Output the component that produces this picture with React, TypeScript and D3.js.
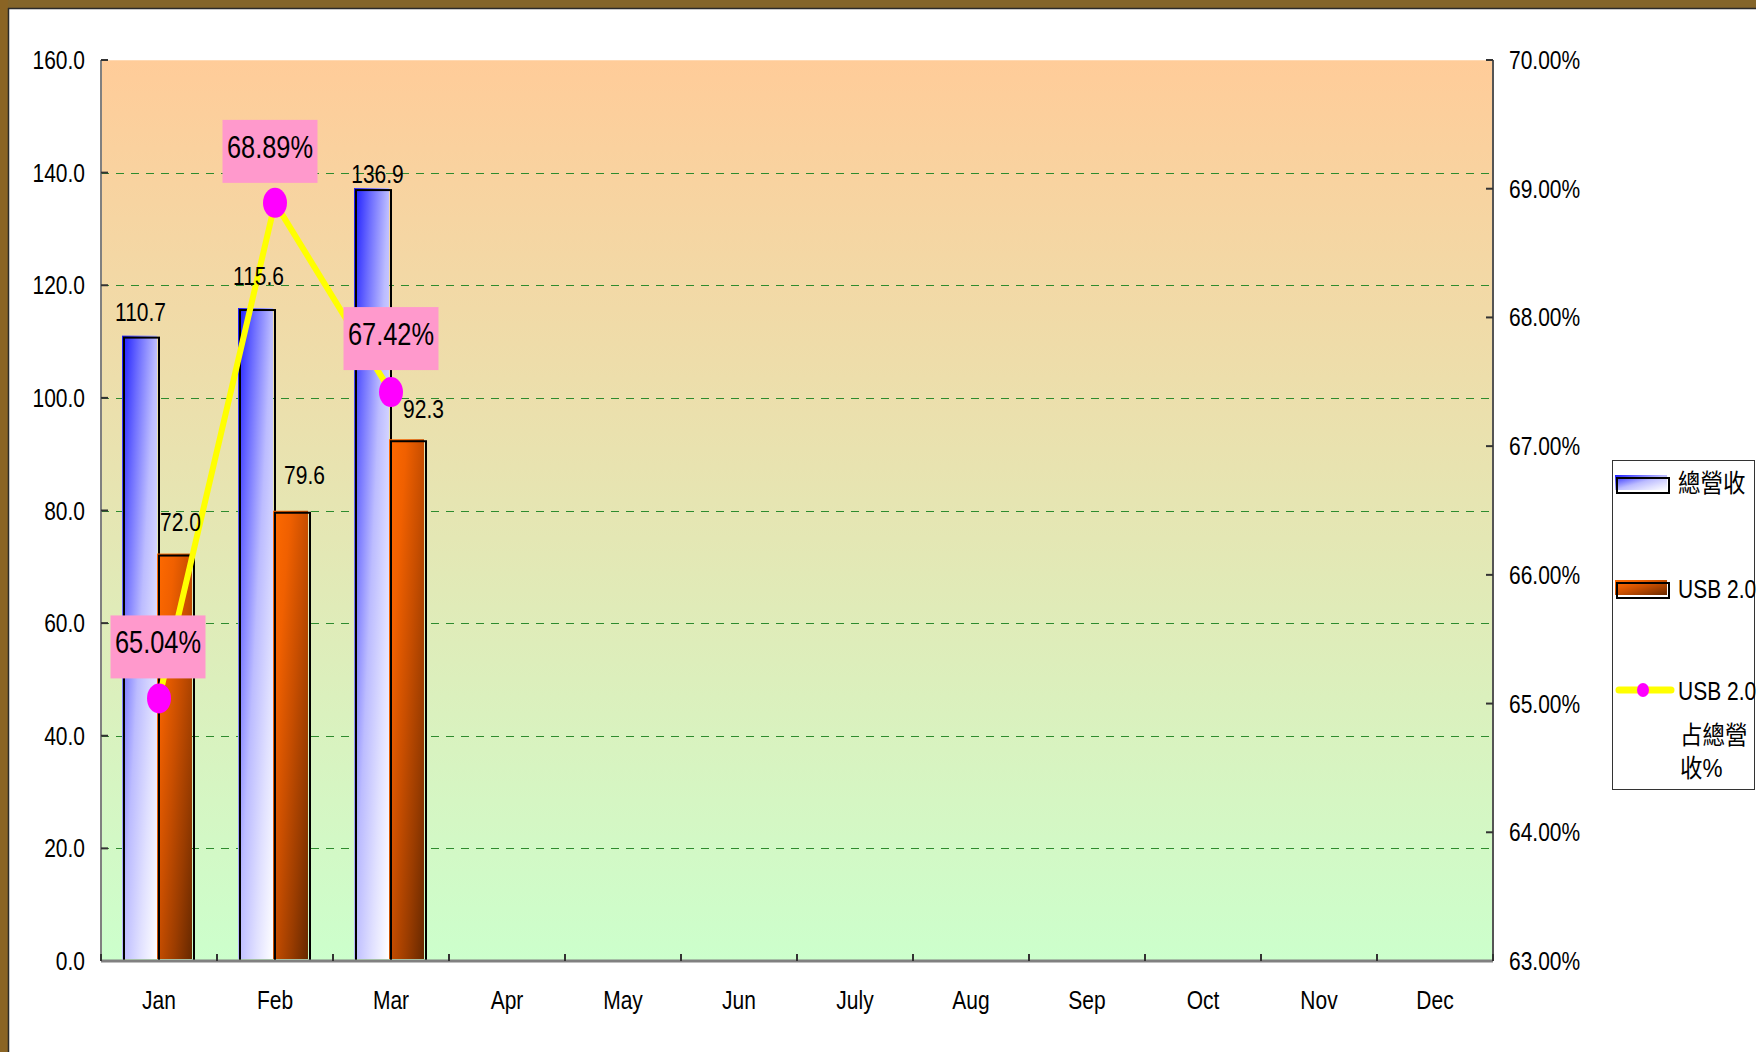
import * as d3 from 'd3';
import React, { useEffect } from 'react';

// chart values
const months = ['Jan', 'Feb', 'Mar', 'Apr', 'May', 'Jun', 'July', 'Aug', 'Sep', 'Oct', 'Nov', 'Dec'];
const totalRevenue = [110.7, 115.6, 136.9];
const usbRevenue = [72.0, 79.6, 92.3];
const usbShare = [65.04, 68.89, 67.42];
const leftTicks = [0, 20, 40, 60, 80, 100, 120, 140, 160];
const rightTicks = [63, 64, 65, 66, 67, 68, 69, 70];
const barSeries = ['總營收', 'USB 2.0'];
const lineLabel = ['USB 2.0', '占總營', '收%'];

// label nudges (dx, dy) as placed in the original
const totalNudge = [[-1, -17], [1, -25], [4, -7]];
const usbNudge = [[4, -25], [12, -29], [15, -23]];
const shareNudge = [[-1, 0], [-5, 0], [0, -2]];

const W = 1756;
const H = 1052;
const plot = { left: 101, top: 60, right: 1493, bottom: 961 };
const FONT = 'Liberation Sans, Arial, Noto Sans CJK TC, sans-serif';
const SX = 0.84;

function Txt({ x, y, anchor = 'start', size = 25, sx = SX, children }: any) {
  return (
    <text
      transform={`translate(${x},${y}) scale(${sx},1)`}
      textAnchor={anchor}
      fontSize={size}
      fontFamily={FONT}
      fill="#000"
    >
      {children}
    </text>
  );
}

export default function App() {
  useEffect(() => {
    document.body.style.margin = '0';
    document.body.style.overflow = 'hidden';
  }, []);

  const x0 = d3.scaleBand<string>().domain(months).range([plot.left, plot.right]).padding(0);
  const x1 = d3
    .scaleBand<string>()
    .domain(barSeries)
    .range([0, x0.bandwidth()])
    .paddingInner(0)
    .paddingOuter(0.657);
  const y = d3.scaleLinear().domain([0, 160]).range([plot.bottom, plot.top]);
  const y2 = d3.scaleLinear().domain([63, 70]).range([plot.bottom, plot.top]);

  const cx = (i: number) => (x0(months[i]) as number) + x0.bandwidth() / 2;
  const line = d3
    .line<number>()
    .x((_, i) => cx(i))
    .y((d) => y2(d));

  const bw = x1.bandwidth();
  const bars = [
    { values: totalRevenue, key: barSeries[0], grad: 'url(#blueGrad)' },
    { values: usbRevenue, key: barSeries[1], grad: 'url(#orangeGrad)' },
  ];
  const barCenter = (i: number, key: string) => (x0(months[i]) as number) + (x1(key) as number) + bw / 2;

  const boundaries = months.map((m) => x0(m) as number).concat([plot.right]);

  return (
    <svg width={W} height={H} style={{ position: 'absolute', left: 0, top: 0, display: 'block' }}>
      <defs>
        <linearGradient id="bgGrad" x1="0" y1="0" x2="0" y2="1">
          <stop offset="0" stopColor="#FFCC99" />
          <stop offset="1" stopColor="#CCFFCC" />
        </linearGradient>
        <linearGradient id="blueGrad" x1="0" y1="0" x2="1" y2="1">
          <stop offset="0" stopColor="#1A1AFF" />
          <stop offset="0.25" stopColor="#6E6EFF" />
          <stop offset="0.5" stopColor="#BCBCFF" />
          <stop offset="0.75" stopColor="#E0E0FF" />
          <stop offset="1" stopColor="#FFFFFF" />
        </linearGradient>
        <linearGradient id="orangeGrad" x1="0" y1="0" x2="1" y2="1">
          <stop offset="0" stopColor="#FF6A00" />
          <stop offset="0.25" stopColor="#F06000" />
          <stop offset="0.5" stopColor="#C84E00" />
          <stop offset="0.75" stopColor="#9A3C00" />
          <stop offset="1" stopColor="#662800" />
        </linearGradient>
      </defs>

      <rect x={0} y={0} width={W} height={H} fill="#fff" />
      {/* frame */}
      <rect x={0} y={0} width={W} height={8} fill="#84652A" />
      <rect x={0} y={0} width={8} height={H} fill="#8A6424" />
      <line x1={8.5} y1={8} x2={8.5} y2={H} stroke="#2a2a2a" strokeWidth={1.5} />
      <line x1={8} y1={8.5} x2={W} y2={8.5} stroke="#2a2a2a" strokeWidth={1.5} />

      {/* plot area */}
      <rect
        x={plot.left}
        y={plot.top}
        width={plot.right - plot.left}
        height={plot.bottom - plot.top}
        fill="url(#bgGrad)"
      />
      <line x1={plot.left} y1={plot.top - 0.5} x2={plot.right} y2={plot.top - 0.5} stroke="#fff" strokeWidth={1.5} />

      {/* gridlines */}
      {leftTicks
        .filter((t) => t > 0 && t < 160)
        .map((t) => (
          <line
            key={'g' + t}
            x1={plot.left}
            x2={plot.right}
            y1={Math.round(y(t)) + 0.5}
            y2={Math.round(y(t)) + 0.5}
            stroke="#2E8B2E"
            strokeWidth={1.2}
            strokeDasharray="8,7"
          />
        ))}

      {/* axes */}
      <line x1={plot.left} y1={plot.top} x2={plot.left} y2={plot.bottom} stroke="#808080" strokeWidth={2} />
      <line x1={plot.right} y1={plot.top} x2={plot.right} y2={plot.bottom} stroke="#555" strokeWidth={2} />
      {leftTicks.map((t) => (
        <g key={'l' + t}>
          <line x1={plot.left} x2={plot.left + 7} y1={y(t)} y2={y(t)} stroke="#333" strokeWidth={2} />
          <Txt x={85} y={y(t) + 9} anchor="end">
            {t.toFixed(1)}
          </Txt>
        </g>
      ))}
      {rightTicks.map((t) => (
        <g key={'r' + t}>
          <line x1={plot.right - 7} x2={plot.right} y1={y2(t)} y2={y2(t)} stroke="#333" strokeWidth={2} />
          <Txt x={1509} y={y2(t) + 9}>
            {t.toFixed(2) + '%'}
          </Txt>
        </g>
      ))}

      {/* bars */}
      {bars.map((s) =>
        s.values.map((v, i) => {
          const bx = (x0(months[i]) as number) + (x1(s.key) as number);
          const by = y(v);
          const bh = plot.bottom - by;
          return (
            <g key={s.key + i}>
              <rect x={bx - 2} y={by - 2} width={bw} height={bh} fill={s.grad} />
              <rect x={bx} y={by} width={bw} height={bh} fill="none" stroke="#000" strokeWidth={2} />
            </g>
          );
        })
      )}

      <line x1={plot.left} y1={plot.bottom} x2={plot.right} y2={plot.bottom} stroke="#808080" strokeWidth={3} />
      {boundaries.map((b, i) => (
        <line key={'b' + i} x1={b} x2={b} y1={plot.bottom - 7} y2={plot.bottom} stroke="#333" strokeWidth={2} />
      ))}
      {months.map((m, i) => (
        <Txt key={m} x={cx(i)} y={1009} anchor="middle">
          {m}
        </Txt>
      ))}

      {/* share line */}
      <path d={line(usbShare) || ''} fill="none" stroke="#FFFF00" strokeWidth={6} strokeLinejoin="round" />
      {usbShare.map((v, i) => (
        <ellipse key={'m' + i} cx={cx(i)} cy={y2(v)} rx={12} ry={15} fill="#FF00FF" />
      ))}

      {/* bar value labels */}
      {totalRevenue.map((v, i) => (
        <Txt key={'tv' + i} x={barCenter(i, barSeries[0]) + totalNudge[i][0]} y={y(v) + totalNudge[i][1]} anchor="middle">
          {v.toFixed(1)}
        </Txt>
      ))}
      {usbRevenue.map((v, i) => (
        <Txt key={'uv' + i} x={barCenter(i, barSeries[1]) + usbNudge[i][0]} y={y(v) + usbNudge[i][1]} anchor="middle">
          {v.toFixed(1)}
        </Txt>
      ))}

      {usbShare.map((v, i) => {
        const lx = cx(i) + shareNudge[i][0];
        const top = y2(v) - 20 - 63 + shareNudge[i][1];
        return (
          <g key={'pl' + i}>
            <rect x={lx - 47.5} y={top} width={95} height={63} fill="#FF99CC" />
            <Txt x={lx} y={top + 38} anchor="middle" size={31} sx={0.82}>
              {v.toFixed(2) + '%'}
            </Txt>
          </g>
        );
      })}

      {/* legend */}
      <rect x={1612.5} y={460.5} width={142} height={329} fill="#fff" stroke="#333" strokeWidth={1} />
      <rect x={1615} y={475} width={52} height={15} fill="url(#blueGrad)" />
      <rect x={1617} y={478} width={52} height={15} fill="none" stroke="#000" strokeWidth={2} />
      <Txt x={1678} y={492} size={25} sx={0.9}>
        {barSeries[0]}
      </Txt>
      <rect x={1615} y={580} width={52} height={15} fill="url(#orangeGrad)" />
      <rect x={1617} y={583} width={52} height={15} fill="none" stroke="#000" strokeWidth={2} />
      <Txt x={1678} y={598} size={25}>
        {barSeries[1]}
      </Txt>
      <line x1={1619} x2={1671} y1={690} y2={690} stroke="#FFFF00" strokeWidth={7} strokeLinecap="round" />
      <ellipse cx={1643} cy={690} rx={6} ry={7} fill="#FF00FF" />
      <Txt x={1678} y={700} size={25}>
        {lineLabel[0]}
      </Txt>
      <Txt x={1680} y={744} size={25} sx={0.9}>
        {lineLabel[1]}
      </Txt>
      <Txt x={1680} y={777} size={25} sx={0.9}>
        {lineLabel[2]}
      </Txt>
    </svg>
  );
}
